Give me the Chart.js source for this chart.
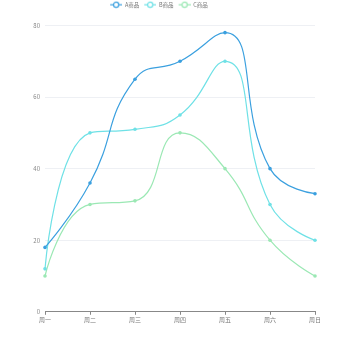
<!DOCTYPE html>
<html>
<head>
<meta charset="utf-8">
<script src="https://cdn.jsdelivr.net/npm/chart.js@4/dist/chart.umd.min.js"></script>
<style>
  html, body { margin: 0; padding: 0; background: #fff; }
  #wrap { width: 350px; height: 350px; }
</style>
</head>
<body>
<div id="wrap"><canvas id="c" width="350" height="350"></canvas></div>
<script>
// Weekly sales of three products
const days = ['周一', '周二', '周三', '周四', '周五', '周六', '周日'];
const seriesNames = ['A商品', 'B商品', 'C商品'];
const salesA = [18, 36, 65, 70, 78, 40, 33];
const salesB = [12, 50, 51, 55, 70, 30, 20];
const salesC = [10, 30, 31, 50, 40, 20, 10];
const yTicks = [0, 20, 40, 60, 80];

const colors = ['#3ba0df', '#6fe1e6', '#9be8b4'];
const SMOOTH = 0.5;

// Legend icon: short line with a hollow circle in the middle,
// right-aligned in its box so the blank left part separates the items
function legendIcon(color) {
  const cv = document.createElement('canvas');
  cv.width = 15; cv.height = 8;
  const g = cv.getContext('2d');
  g.strokeStyle = color;
  g.lineWidth = 1.2;
  g.beginPath(); g.moveTo(3, 4); g.lineTo(15, 4); g.stroke();
  g.beginPath(); g.arc(9, 4, 2.6, 0, Math.PI * 2);
  g.fillStyle = '#fff'; g.fill(); g.stroke();
  return cv;
}

// Bezier control points that never overshoot the neighbouring points
// (each control point is clamped to the box between adjacent vertices).
const clampedSmooth = {
  id: 'clampedSmooth',
  beforeDatasetsDraw(chart) {
    chart.data.datasets.forEach((ds, di) => {
      const meta = chart.getDatasetMeta(di);
      const pts = meta.data;
      const n = pts.length;
      if (!n) return;
      const min = Math.min, max = Math.max;
      pts[0].cp1x = pts[0].x; pts[0].cp1y = pts[0].y;
      pts[0].cp2x = pts[0].x; pts[0].cp2y = pts[0].y;
      for (let i = 1; i < n; i++) {
        const p = pts[i], prev = pts[i - 1];
        const x = p.x, y = p.y;
        if (i === n - 1) {
          p.cp1x = x; p.cp1y = y; p.cp2x = x; p.cp2y = y;
          continue;
        }
        const next = pts[i + 1];
        let vx = next.x - prev.x, vy = next.y - prev.y;
        const lenPrev = Math.hypot(x - prev.x, y - prev.y);
        const lenNext = Math.hypot(next.x - x, next.y - y);
        const ratio = lenNext / (lenNext + lenPrev);
        let ncx = x + vx * SMOOTH * ratio;
        let ncy = y + vy * SMOOTH * ratio;
        ncx = max(min(ncx, max(next.x, x)), min(next.x, x));
        ncy = max(min(ncy, max(next.y, y)), min(next.y, y));
        vx = ncx - x; vy = ncy - y;
        let cx = x - vx * lenPrev / lenNext;
        let cy = y - vy * lenPrev / lenNext;
        cx = max(min(cx, max(prev.x, x)), min(prev.x, x));
        cy = max(min(cy, max(prev.y, y)), min(prev.y, y));
        vx = x - cx; vy = y - cy;
        ncx = x + vx * lenNext / lenPrev;
        ncy = y + vy * lenNext / lenPrev;
        p.cp1x = cx; p.cp1y = cy;
        p.cp2x = ncx; p.cp2y = ncy;
      }
      if (meta.dataset) meta.dataset._pointsUpdated = true;
    });
  }
};

// Empty band between the legend and the plot area
const topSpacer = {
  id: 'topSpacer',
  beforeInit(chart) {
    Chart.layouts.addBox(chart, {
      position: 'top',
      weight: -10,
      fullSize: true,
      options: {},
      left: 0, top: 0, right: 0, bottom: 0, width: 0, height: 0,
      isHorizontal() { return true; },
      update(maxWidth) { this.width = maxWidth; this.height = 8; },
      draw() {}
    });
  }
};

const allSeries = [salesA, salesB, salesC];
const datasets = allSeries.map((vals, i) => ({
  label: seriesNames[i],
  data: vals,
  borderColor: colors[i],
  backgroundColor: colors[i],
  borderWidth: 1.2,
  pointRadius: 1.8,
  pointBorderWidth: 0,
  pointBackgroundColor: colors[i],
  tension: 0.4,
  fill: false
}));

new Chart(document.getElementById('c'), {
  type: 'line',
  data: { labels: days, datasets },
  plugins: [clampedSmooth, topSpacer],
  options: {
    responsive: false,
    animation: false,
    layout: { padding: { left: 0, right: 35, top: 0, bottom: 26 } },
    plugins: {
      tooltip: { enabled: false },
      legend: {
        position: 'top',
        labels: {
          usePointStyle: true,
          pointStyleWidth: 15,
          boxHeight: 6,
          padding: 2,
          font: { size: 5.5, family: 'Noto Sans CJK SC' },
          color: '#777',
          generateLabels(chart) {
            return chart.data.datasets.map((ds, i) => ({
              text: ds.label,
              pointStyle: legendIcon(colors[i]),
              fillStyle: colors[i],
              strokeStyle: colors[i],
              fontColor: '#777',
              lineWidth: 0,
              hidden: !chart.isDatasetVisible(i),
              datasetIndex: i
            }));
          }
        }
      }
    },
    scales: {
      x: {
        offset: false,
        grid: {
          display: true,
          drawOnChartArea: false,
          drawTicks: true,
          tickLength: 3,
          color: '#888'
        },
        border: { display: true, color: '#888', width: 1 },
        ticks: {
          font: { size: 6, family: 'Noto Sans CJK SC' },
          color: '#777',
          padding: 1,
          maxRotation: 0
        }
      },
      y: {
        min: 0,
        max: 80,
        afterBuildTicks(scale) {
          scale.ticks = yTicks.map(v => ({ value: v }));
        },
        afterFit(scale) { scale.width = 45; },
        grid: { color: '#eef0f4', drawTicks: false },
        border: { display: false },
        ticks: {
          font: { size: 6, family: 'Noto Sans CJK SC' },
          color: '#888',
          padding: 5
        }
      }
    }
  }
});
</script>
</body>
</html>
